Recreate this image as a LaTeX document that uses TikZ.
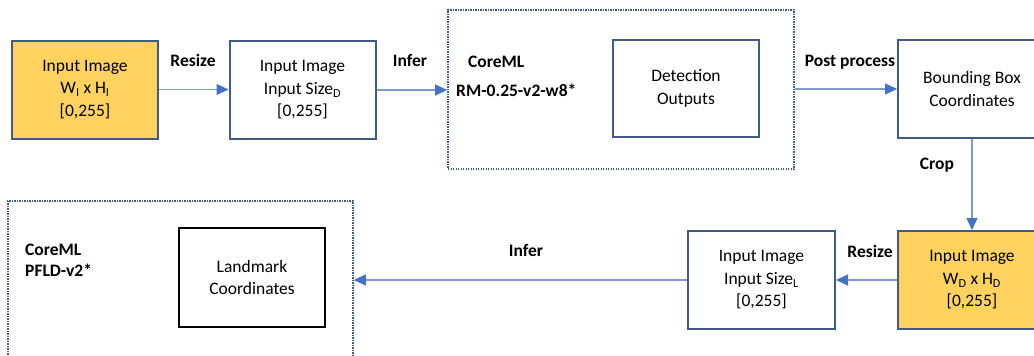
\documentclass[tikz,border=0pt]{standalone}
\usepackage{fontspec}
\setmainfont{Carlito}
\usetikzlibrary{arrows.meta}
\definecolor{bord}{HTML}{41598B}
\definecolor{arr}{HTML}{7E9BD0}
\definecolor{arrhead}{HTML}{4472C4}
\definecolor{yel}{HTML}{FDD25F}
\begin{document}
\begin{tikzpicture}[x=1pt,y=-1pt,
  every node/.style={font=\fontsize{17.5}{22.5}\selectfont, inner sep=0pt},
  box/.style={draw=bord, line width=2pt, fill=white, align=center, minimum width=146pt, minimum height=98pt},
  ybox/.style={box, fill=yel},
  kbox/.style={box, draw=black},
  dotbox/.style={draw=bord, line width=1.7pt, dash pattern=on 1.2pt off 1.3pt},
  lbl/.style={font=\fontsize{17.5}{22}\selectfont\bfseries},
  conn/.style={draw=arr, line width=1.3pt, -{Triangle[length=12pt,width=11pt,color=arrhead]}}
]
\useasboundingbox (0,0) rectangle (1034,356);
\clip (0,0) rectangle (1034,356);
\fill[white] (0,0) rectangle (1034,356);

% dotted containers
\node[dotbox, minimum width=346pt, minimum height=159pt] (m1) at (621,89.5) {};
\node[dotbox, minimum width=345pt, minimum height=170pt] (m2) at (180.5,286) {};

% boxes
\node[ybox] (b1) at (85,89.5) {Input Image\\W\textsubscript{I} x H\textsubscript{I}\\\relax[0,255]};
\node[box] (b2) at (302.5,90) {Input Image\\Input Size\textsubscript{D}\\\relax[0,255]};
\node[box, minimum height=97pt] (det) at (686,88.5) {Detection\\Outputs};
\node[box, minimum width=148pt] (bb) at (972,89) {Bounding Box\\Coordinates};
\node[ybox, minimum width=148pt] (b5) at (972,280) {Input Image\\W\textsubscript{D} x H\textsubscript{D}\\\relax[0,255]};
\node[box, minimum width=147pt] (sl) at (761.5,280) {Input Image\\Input Size\textsubscript{L}\\\relax[0,255]};
\node[kbox, minimum height=99pt] (lm) at (252,277.5) {Landmark\\Coordinates};

% model labels
\node[lbl, anchor=west] (c1) at (468,62) {CoreML};
\node[lbl, anchor=west] (r1) at (456,90) {RM-0.25-v2-w8*};
\node[lbl, anchor=west] (c2) at (25,250) {CoreML};
\node[lbl, anchor=west] (p2) at (25,270) {PFLD-v2*};

% connectors
\draw[conn] (b1.east) -- (b1.east -| b2.west);
\draw[conn] (b2.east) -- (b2.east -| m1.west);
\draw[conn] (m1.east |- bb.west) -- (bb.west);
\draw[conn] (bb.south) -- (b5.north);
\draw[conn] (b5.west) -- (sl.east);
\draw[conn] (sl.west) -- (sl.west -| m2.east);

% connector labels
\node[lbl] (l1) at (193,60) {Resize};
\node[lbl] (l2) at (410,60) {Infer};
\node[lbl] (l3) at (850,62) {Post process};
\node[lbl] (l4) at (937,165) {Crop};
\node[lbl] (l5) at (870,251) {Resize};
\node[lbl] (l6) at (526,250) {Infer};
\end{tikzpicture}
\end{document}
